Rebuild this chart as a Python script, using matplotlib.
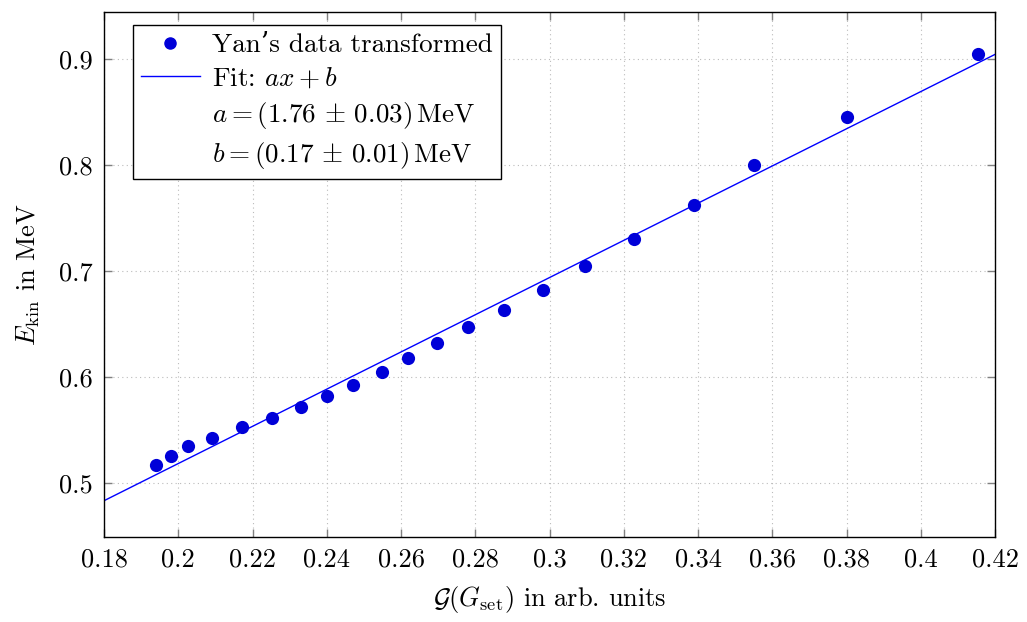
import numpy as np
import matplotlib
matplotlib.use("Agg")
import matplotlib.pyplot as plt
from matplotlib.lines import Line2D
from matplotlib.ticker import FuncFormatter

plt.rcParams['font.family'] = ['cmr10', 'DejaVu Serif']
plt.rcParams['mathtext.fontset'] = 'cm'
plt.rcParams['axes.formatter.use_mathtext'] = True
plt.rcParams['axes.unicode_minus'] = False

# Data
g_values = [0.1940, 0.1980, 0.2026, 0.2092, 0.2172, 0.2252, 0.2330, 0.2401,
            0.2471, 0.2548, 0.2619, 0.2697, 0.2781, 0.2877, 0.2982, 0.3095,
            0.3227, 0.3389, 0.3551, 0.3801, 0.4154]
e_kin = [0.5167, 0.5255, 0.5347, 0.5425, 0.5523, 0.5614, 0.5715, 0.5819,
         0.5926, 0.6043, 0.6181, 0.6317, 0.6468, 0.6632, 0.6818, 0.7044,
         0.7305, 0.7624, 0.8001, 0.8455, 0.9050]
fit_a = 1.757
fit_b = 0.1667
x_ticks = [0.18, 0.20, 0.22, 0.24, 0.26, 0.28, 0.30, 0.32, 0.34, 0.36, 0.38, 0.40, 0.42]
y_ticks = [0.5, 0.6, 0.7, 0.8, 0.9]

fig = plt.figure(figsize=(10.27, 6.22), dpi=100)
ax = fig.add_axes([104/1027, 1 - 537/622, (995-104)/1027, (537-12)/622])

xmin, xmax = 0.18, 0.42
xf = np.array([xmin, xmax])
ax.plot(xf, fit_a*xf + fit_b, color='#0000ff', lw=1.0, zorder=2)
ax.plot(g_values, e_kin, 'o', color='#0000d8', markersize=9.5, markeredgewidth=0, zorder=3)

ax.set_xlim(xmin, xmax)
ax.set_ylim(0.4487, 0.9447)
ax.set_xticks(x_ticks)
ax.set_yticks(y_ticks)
ax.xaxis.set_major_formatter(FuncFormatter(lambda v, p: '%g' % round(v, 2)))
ax.yaxis.set_major_formatter(FuncFormatter(lambda v, p: '%g' % round(v, 2)))
ax.tick_params(direction='in', top=True, right=True, length=6, width=1,
               color='#808080', labelsize=19, pad=8)
ax.grid(True, linestyle=(0, (1, 3)), color='#bbbbbb', lw=0.8)
for s in ax.spines.values():
    s.set_linewidth(1.0)
    s.set_color('black')

ax.set_xlabel(r'$\mathcal{G}(G_\mathrm{set})$ in arb. units', fontsize=19, labelpad=9)
ax.set_ylabel(r'$E_\mathrm{kin}$ in MeV', fontsize=19, labelpad=12)

handles = [
    Line2D([], [], marker='o', color='#0000d8', ls='none', markersize=8),
    Line2D([], [], color='#0000ff', lw=1.0),
    Line2D([], [], color='none'),
    Line2D([], [], color='none'),
]
labels = [
    'Yan’s data transformed',
    r'Fit: $ax+b$',
    r'$a=(1.76\,\pm\,0.03)\,\mathrm{MeV}$',
    r'$b=(0.17\,\pm\,0.01)\,\mathrm{MeV}$',
]
leg = ax.legend(handles, labels, loc='upper left', bbox_to_anchor=(0.032, 0.975),
                fontsize=19.5, frameon=True, fancybox=False, edgecolor='black',
                framealpha=1, handlelength=2.2, handletextpad=0.45,
                labelspacing=0.33, borderpad=0.3, borderaxespad=0)
leg.get_frame().set_linewidth(1.0)

fig.savefig('out.png', dpi=100)
